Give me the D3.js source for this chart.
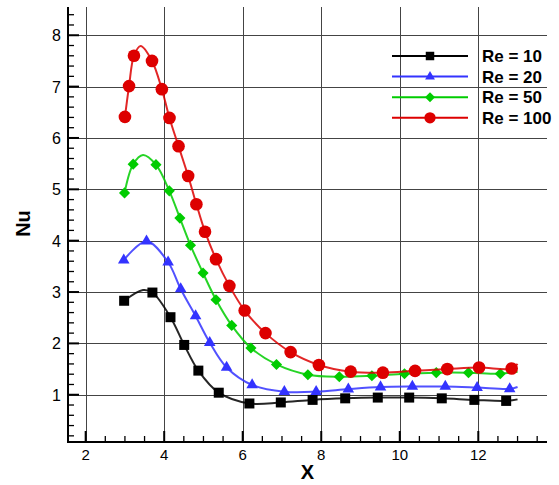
<!DOCTYPE html>
<html>
<head>
<meta charset="utf-8">
<script src="https://cdn.jsdelivr.net/npm/d3@7"></script>
<style>
  body { margin: 0; background: #fff; }
  svg text { font-family: "Liberation Sans", Arial, sans-serif; }
</style>
</head>
<body>
<div id="chart"></div>
<script>
// marker points: [X, Nu]
const re10 = [[2.98, 2.83], [3.70, 2.99], [4.16, 2.51], [4.51, 1.97], [4.87, 1.47], [5.39, 1.04], [6.17, 0.83],
  [6.97, 0.85], [7.78, 0.90], [8.61, 0.93], [9.44, 0.945], [10.24, 0.945], [11.07, 0.93], [11.90, 0.90], [12.71, 0.88]];
const re20 = [[2.97, 3.62], [3.55, 3.99], [4.10, 3.58], [4.42, 3.06], [4.80, 2.535], [5.16, 2.015], [5.59, 1.53],
  [6.24, 1.19], [7.06, 1.06], [7.87, 1.06], [8.69, 1.11], [9.51, 1.15], [10.32, 1.16], [11.16, 1.16], [11.97, 1.14], [12.80, 1.115]];
const re50 = [[2.99, 4.93], [3.21, 5.49], [3.79, 5.48], [4.13, 4.97], [4.40, 4.44], [4.67, 3.91], [4.99, 3.37], [5.32, 2.85],
  [5.72, 2.35], [6.21, 1.91], [6.86, 1.59], [7.66, 1.39], [8.46, 1.35], [9.29, 1.37], [10.12, 1.41], [10.93, 1.43], [11.75, 1.43], [12.56, 1.41]];
const re100 = [[3.00, 6.41], [3.105, 7.01], [3.23, 7.60], [3.69, 7.50], [3.94, 6.95], [4.135, 6.39], [4.365, 5.84], [4.61, 5.26],
  [4.82, 4.71], [5.04, 4.175], [5.32, 3.64], [5.66, 3.12], [6.05, 2.64], [6.58, 2.20], [7.22, 1.83], [7.94, 1.58], [8.75, 1.45],
  [9.57, 1.43], [10.39, 1.465], [11.21, 1.50], [12.02, 1.53], [12.85, 1.51]];

// extra points on the curves (peaks and line ends)
const re10Curve = [[3.46, 3.04], [13.0, 0.91]];
const re20Curve = [[13.0, 1.15]];
const re50Curve = [[3.46, 5.67], [13.0, 1.45]];
const re100Curve = [[3.40, 7.79], [13.0, 1.60]];

const labels = ['Re = 10', 'Re = 20', 'Re = 50', 'Re = 100'];
const xTicks = [2, 4, 6, 8, 10, 12];
const yTicks = [1, 2, 3, 4, 5, 6, 7, 8];

const width = 559, height = 485;
const colors = ['#000000', '#3333ff', '#00cc00', '#dd0000'];
const symbols = [
  { type: d3.symbolSquare, size: 100, rot: 0, leg: 72 },
  { type: d3.symbolTriangle, size: 58, rot: 0, leg: 42 },
  { type: d3.symbolSquare, size: 62, rot: 45, leg: 50 },
  { type: d3.symbolCircle, size: 125, rot: 0, leg: 100 }
];

const x = d3.scaleLinear().domain([1.55, 13.75]).range([68, 547]);
const y = d3.scaleLinear().domain([0.08, 8.55]).range([442, 7]);

const svg = d3.select('#chart').append('svg')
  .attr('width', width).attr('height', height);

// grid
const grid = svg.append('g').attr('stroke', '#444').attr('stroke-width', 1);
xTicks.forEach(t => {
  const px = Math.round(x(t)) + 0.5;
  grid.append('line').attr('x1', px).attr('x2', px).attr('y1', y.range()[1]).attr('y2', y.range()[0]);
});
yTicks.forEach(t => {
  const py = Math.round(y(t)) + 0.5;
  grid.append('line').attr('x1', x.range()[0]).attr('x2', x.range()[1]).attr('y1', py).attr('y2', py);
});

// curves + markers
const allSeries = [re10, re20, re50, re100];
const curveExtra = [re10Curve, re20Curve, re50Curve, re100Curve];
const line = d3.line().x(d => x(d[0])).y(d => y(d[1])).curve(d3.curveCatmullRom.alpha(0.5));

allSeries.forEach((pts, i) => {
  const linePts = pts.concat(curveExtra[i]).sort((a, b) => a[0] - b[0]);
  svg.append('path').datum(linePts)
    .attr('d', line)
    .attr('fill', 'none')
    .attr('stroke', colors[i])
    .attr('stroke-width', 2)
    .attr('stroke-opacity', 0.85);
  const s = symbols[i];
  svg.append('g').selectAll('path').data(pts).join('path')
    .attr('d', d3.symbol().type(s.type).size(s.size))
    .attr('transform', d => `translate(${x(d[0])},${y(d[1])}) rotate(${s.rot})`)
    .attr('fill', colors[i]);
});

// axes (ticks inside)
const ax = svg.append('g').attr('stroke', '#000');
ax.append('line').attr('x1', x.range()[0]).attr('x2', x.range()[0])
  .attr('y1', y.range()[1]).attr('y2', y.range()[0] + 1).attr('stroke-width', 2);
ax.append('line').attr('x1', x.range()[0] - 1).attr('x2', x.range()[1])
  .attr('y1', y.range()[0]).attr('y2', y.range()[0]).attr('stroke-width', 2);

d3.range(2, 13.75, 0.5).forEach(t => {
  const major = t % 2 === 0;
  ax.append('line').attr('x1', x(t)).attr('x2', x(t))
    .attr('y1', y.range()[0]).attr('y2', y.range()[0] - (major ? 11 : 6))
    .attr('stroke-width', major ? 2 : 1.3);
});
d3.range(1, 43).map(k => k * 0.2).filter(t => t >= 0.1 && t <= 8.5).forEach(t => {
  const major = Math.abs(t - Math.round(t)) < 1e-6;
  ax.append('line').attr('x1', x.range()[0]).attr('x2', x.range()[0] + (major ? 11 : 6))
    .attr('y1', y(t)).attr('y2', y(t))
    .attr('stroke-width', major ? 2 : 1.3);
});

svg.append('g').selectAll('text').data(xTicks).join('text')
  .attr('x', d => x(d)).attr('y', 460)
  .attr('text-anchor', 'middle').attr('font-size', '15px').attr('fill', '#000')
  .text(d => d);
svg.append('g').selectAll('text').data(yTicks).join('text')
  .attr('x', 61).attr('y', d => y(d) + 6)
  .attr('text-anchor', 'end').attr('font-size', '16px').attr('fill', '#000')
  .text(d => d);

svg.append('text').attr('x', 307.5).attr('y', 479)
  .attr('text-anchor', 'middle').attr('font-size', '20px').attr('font-weight', 'bold')
  .text('X');
svg.append('text').attr('transform', 'translate(30,223.5) rotate(-90)')
  .attr('text-anchor', 'middle').attr('font-size', '20px').attr('font-weight', 'bold')
  .text('Nu');

// legend
const leg = svg.append('g').attr('transform', 'translate(392,56)');
labels.forEach((l, i) => {
  const ly = i * 20.6;
  leg.append('line').attr('x1', 0).attr('x2', 76).attr('y1', ly).attr('y2', ly)
    .attr('stroke', colors[i]).attr('stroke-width', 2);
  const s = symbols[i];
  leg.append('path').attr('d', d3.symbol().type(s.type).size(s.leg))
    .attr('transform', `translate(38,${ly}) rotate(${s.rot})`)
    .attr('fill', colors[i]);
  leg.append('text').attr('x', 90).attr('y', ly + 6)
    .attr('font-size', '17px').attr('font-weight', 'bold').attr('fill', '#000')
    .text(l);
});
</script>
</body>
</html>
